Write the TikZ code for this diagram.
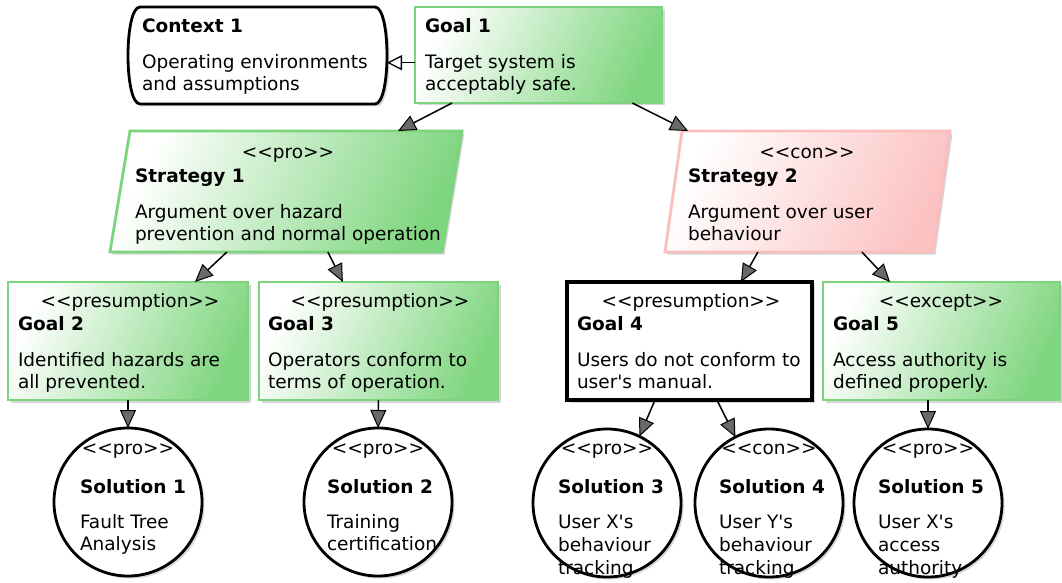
\documentclass[tikz,border=0pt]{standalone}
\usepackage{fontspec}
\setmainfont{DejaVu Sans}[Ligatures=TeXOff]
\usetikzlibrary{arrows.meta,calc,shadows}

\definecolor{gsnline}{RGB}{124,212,124}
\definecolor{gsnfill}{RGB}{128,214,128}
\definecolor{conline}{RGB}{250,190,190}
\definecolor{confill}{RGB}{252,194,194}
\definecolor{tipfill}{RGB}{105,105,105}

\tikzset{
  every node/.style={font=\fontsize{18.5}{22}\selectfont, inner sep=0pt, outer sep=0pt},
  softshadow/.style={drop shadow={shadow xshift=2.5pt, shadow yshift=-2.5pt, fill=black, opacity=0.16}},
  frame/.style={rectangle, anchor=north west},
  greenbox/.style={frame, draw=gsnline, line width=2.8pt, left color=white, right color=gsnfill, shading angle=65, softshadow},
  plainbox/.style={frame, draw=black, line width=3.2pt, fill=white, softshadow},
  greenpath/.style={draw=gsnline, line width=2.8pt, left color=white, right color=gsnfill, shading angle=65, softshadow},
  redpath/.style={draw=conline, line width=2.8pt, left color=white, right color=confill, shading angle=65, softshadow},
  ctxpath/.style={draw=black, line width=2.8pt, fill=white, softshadow},
  solcirc/.style={circle, draw=black, line width=2.8pt, fill=white, minimum size=148pt, softshadow},
  link/.style={line width=1.5pt, -{Triangle[length=18pt, width=16pt, fill=tipfill, line width=1pt]}},
  ctxlink/.style={line width=1.5pt, -{Triangle[length=15pt, width=15pt, fill=white, line width=1.3pt]}},
}

% one line of text, left aligned on its baseline
\newcommand\tline[4]{\node[anchor=base west] (#1) at (#2,#3) {#4};}
% one line of text, centred on its baseline
\newcommand\tcentre[4]{\node[anchor=base] (#1) at (#2,#3) {#4};}

\begin{document}
\begin{tikzpicture}[x=1pt, y=-1pt]
\useasboundingbox (0,0) rectangle (1062,583);
\fill[white] (0,0) rectangle (1062,583);

% ---------------- top row ----------------
\node[frame, minimum width=259pt, minimum height=97pt] (c1) at (128,7) {};
\path[ctxpath] ($(c1.north west)+(12,0)$) -- ($(c1.north east)+(-12,0)$)
  .. controls ($(c1.north east)+(4,0)$) and ($(c1.south east)+(4,0)$) .. ($(c1.south east)+(-12,0)$)
  -- ($(c1.south west)+(12,0)$)
  .. controls ($(c1.south west)+(-4,0)$) and ($(c1.north west)+(-4,0)$) .. cycle;
\tline{c1t}{142}{33}{\bfseries Context 1}
\tline{c1a}{142}{69}{Operating environments}
\tline{c1b}{142}{91}{and assumptions}

\node[greenbox, minimum width=247pt, minimum height=96pt] (g1) at (415,7) {};
\tline{g1t}{425}{33}{\bfseries Goal 1}
\tline{g1a}{425}{69}{Target system is}
\tline{g1b}{425}{91}{acceptably safe.}

% ---------------- strategies ----------------
\node[frame, minimum width=352pt, minimum height=121pt] (s1) at (110,131) {};
\path[greenpath] ($(s1.north west)+(20,0)$) -- (s1.north east) -- ($(s1.south east)+(-20,0)$) -- (s1.south west) -- cycle;
\tcentre{s1s}{288}{158}{<<pro>>}
\tline{s1t}{135}{182}{\bfseries Strategy 1}
\tline{s1a}{135}{218}{Argument over hazard}
\tline{s1b}{135}{240}{prevention and normal operation}

\node[frame, minimum width=285pt, minimum height=121pt] (s2) at (665,131) {};
\path[redpath] ($(s2.north west)+(17,0)$) -- (s2.north east) -- ($(s2.south east)+(-17,0)$) -- (s2.south west) -- cycle;
\tcentre{s2s}{807}{158}{<<con>>}
\tline{s2t}{688}{182}{\bfseries Strategy 2}
\tline{s2a}{688}{218}{Argument over user}
\tline{s2b}{688}{240}{behaviour}

% ---------------- sub-goals ----------------
\node[greenbox, minimum width=240pt, minimum height=118pt] (g2) at (8,282) {};
\tcentre{g2s}{130}{307}{<<presumption>>}
\tline{g2t}{18}{330}{\bfseries Goal 2}
\tline{g2a}{18}{366}{Identified hazards are}
\tline{g2b}{18}{388}{all prevented.}

\node[greenbox, minimum width=239pt, minimum height=118pt] (g3) at (259,282) {};
\tcentre{g3s}{380}{307}{<<presumption>>}
\tline{g3t}{268}{330}{\bfseries Goal 3}
\tline{g3a}{268}{366}{Operators conform to}
\tline{g3b}{268}{388}{terms of operation.}

\node[plainbox, minimum width=245pt, minimum height=118pt] (g4) at (567,282) {};
\tcentre{g4s}{691}{307}{<<presumption>>}
\tline{g4t}{577}{330}{\bfseries Goal 4}
\tline{g4a}{577}{366}{Users do not conform to}
\tline{g4b}{577}{388}{user's manual.}

\node[greenbox, minimum width=237pt, minimum height=118pt] (g5) at (823,282) {};
\tcentre{g5s}{941}{307}{<<except>>}
\tline{g5t}{833}{330}{\bfseries Goal 5}
\tline{g5a}{833}{366}{Access authority is}
\tline{g5b}{833}{388}{defined properly.}

% ---------------- solutions ----------------
\node[solcirc] (e1) at (128,502) {};
\tcentre{e1s}{128}{454}{<<pro>>}
\tline{e1t}{80}{493}{\bfseries Solution 1}
\tline{e1a}{80}{528}{Fault Tree}
\tline{e1b}{80}{550}{Analysis}

\node[solcirc] (e2) at (378,502) {};
\tcentre{e2s}{378}{454}{<<pro>>}
\tline{e2t}{327}{493}{\bfseries Solution 2}
\tline{e2a}{327}{528}{Training}
\tline{e2b}{327}{550}{certification}

\node[solcirc] (e3) at (607,503) {};
\tcentre{e3s}{607}{454}{<<pro>>}
\tline{e3t}{558}{493}{\bfseries Solution 3}
\tline{e3a}{558}{528}{User X's}
\tline{e3b}{558}{551}{behaviour}
\tline{e3c}{558}{574}{tracking}

\node[solcirc] (e4) at (769,503) {};
\tcentre{e4s}{769}{454}{<<con>>}
\tline{e4t}{719}{493}{\bfseries Solution 4}
\tline{e4a}{719}{528}{User Y's}
\tline{e4b}{719}{551}{behaviour}
\tline{e4c}{719}{574}{tracking}

\node[solcirc] (e5) at (928,503) {};
\tcentre{e5s}{928}{454}{<<pro>>}
\tline{e5t}{878}{493}{\bfseries Solution 5}
\tline{e5a}{878}{528}{User X's}
\tline{e5b}{878}{551}{access}
\tline{e5c}{878}{574}{authority}

% ---------------- connectors ----------------
\draw[ctxlink] ($(g1.north west)!0.58!(g1.south west)$) coordinate (g1ctx) -- (g1ctx -| c1.east);

\draw[link] ($(g1.south west)!0.15!(g1.south east)$) -- ($(s1.north west)!0.818!(s1.north east)$);
\draw[link] ($(g1.south west)!0.88!(g1.south east)$) -- ($(s2.north west)!0.081!(s2.north east)$);

\draw[link] ($(s1.south west)!0.332!(s1.south east)$) -- ($(g2.north west)!0.779!(g2.north east)$);
\draw[link] ($(s1.south west)!0.619!(s1.south east)$) -- ($(g3.north west)!0.351!(g3.north east)$);
\draw[link] ($(s2.south west)!0.326!(s2.south east)$) -- ($(g4.north west)!0.710!(g4.north east)$);
\draw[link] ($(s2.south west)!0.691!(s2.south east)$) -- ($(g5.north west)!0.283!(g5.north east)$);

\draw[link] (g2.south) -- (e1.north);
\draw[link] (g3.south) -- (e2.north);
\draw[link] ($(g4.south west)!0.359!(g4.south east)$) -- (e3.64);
\draw[link] ($(g4.south west)!0.612!(g4.south east)$) -- (e4.117);
\draw[link] (e5.north |- g5.south) -- (e5.north);
\end{tikzpicture}
\end{document}
